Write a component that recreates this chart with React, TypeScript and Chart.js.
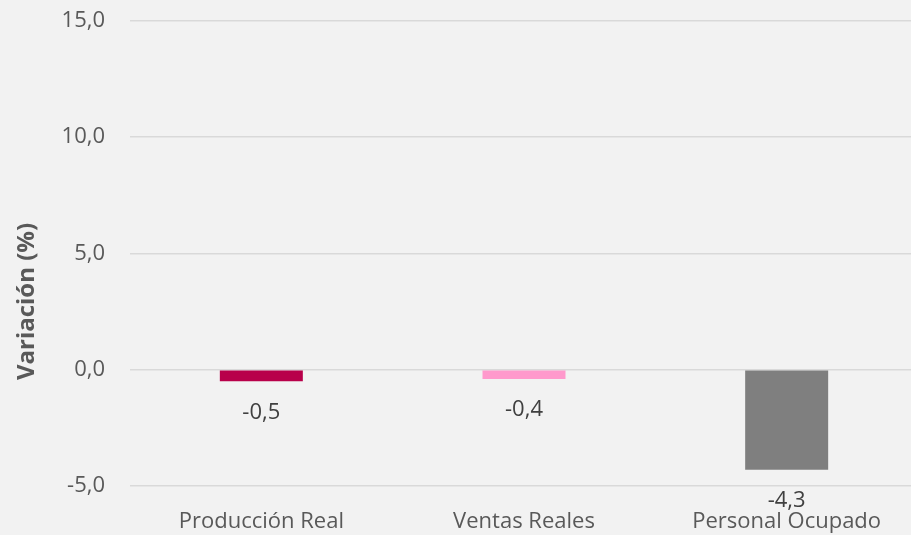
import React, { useEffect, useRef } from "react";
import { Chart, registerables } from "chart.js";

Chart.register(...registerables);

const categories = ["Producción Real", "Ventas Reales", "Personal Ocupado"];
const values = [-0.5, -0.4, -4.3];
const barColors = ["#B8004A", "#FF99CC", "#7F7F7F"];
const yTitle = "Variación (%)";
const yMin = -5;
const yMax = 15;
const yStep = 5;

const fmt = (v: number) => v.toFixed(1).replace(".", ",");
const FONT = "'Open Sans', 'Noto Sans', sans-serif";

export default function App() {
  const ref = useRef<HTMLCanvasElement | null>(null);

  useEffect(() => {
    document.body.style.margin = "0";
    const canvas = ref.current;
    if (!canvas) return;

    const labelPlugin = {
      id: "valueLabels",
      afterDatasetsDraw(chart: any) {
        const ctx = chart.ctx;
        const meta = chart.getDatasetMeta(0);
        ctx.save();
        ctx.font = `22px ${FONT}`;
        ctx.fillStyle = "#404040";
        ctx.textAlign = "center";
        ctx.textBaseline = "middle";
        meta.data.forEach((bar: any, i: number) => {
          ctx.fillText(fmt(values[i]), bar.x, bar.y + 31);
        });
        ctx.restore();
      },
    };

    const titlePlugin = {
      id: "yTitle",
      afterDraw(chart: any) {
        const ctx = chart.ctx;
        ctx.save();
        ctx.translate(27.5, 301.5);
        ctx.rotate(-Math.PI / 2);
        ctx.font = `bold 24px ${FONT}`;
        ctx.fillStyle = "#595959";
        ctx.textAlign = "center";
        ctx.textBaseline = "middle";
        ctx.fillText(yTitle, 0, 0);
        ctx.restore();
      },
    };

    const chart = new Chart(canvas, {
      type: "bar",
      data: {
        labels: categories,
        datasets: [
          {
            data: values,
            backgroundColor: barColors,
            borderWidth: 0,
            categoryPercentage: 1,
            barPercentage: 0.316,
          },
        ],
      },
      options: {
        responsive: false,
        animation: false,
        layout: { padding: { top: 20.5, right: 0, bottom: 0, left: 0 } },
        plugins: {
          legend: { display: false },
          tooltip: { enabled: false },
        },
        scales: {
          x: {
            grid: { display: false, drawTicks: false },
            border: { display: false },
            ticks: {
              color: "#595959",
              font: { family: FONT, size: 22 },
              padding: 23,
              maxRotation: 0,
              autoSkip: false,
            },
            afterFit: (scale: any) => {
              scale.height = 49;
              scale.paddingLeft = 0;
              scale.paddingRight = 0;
            },
          },
          y: {
            min: yMin,
            max: yMax,
            grid: { color: "#D9D9D9", lineWidth: 1.5, drawTicks: false },
            border: { display: false },
            ticks: {
              stepSize: yStep,
              color: "#595959",
              font: { family: FONT, size: 22 },
              padding: 25,
              callback: (v: any) => fmt(Number(v)),
            },
            afterFit: (scale: any) => {
              scale.width = 130;
              scale.paddingTop = 0;
              scale.paddingBottom = 0;
            },
          },
        },
      },
      plugins: [labelPlugin, titlePlugin],
    });

    return () => chart.destroy();
  }, []);

  return (
    <div
      style={{
        position: "absolute",
        left: 0,
        top: 0,
        width: 911,
        height: 535,
        overflow: "hidden",
        background: "#F2F2F2",
      }}
    >
      <canvas ref={ref} width={918} height={535} style={{ display: "block" }} />
    </div>
  );
}
